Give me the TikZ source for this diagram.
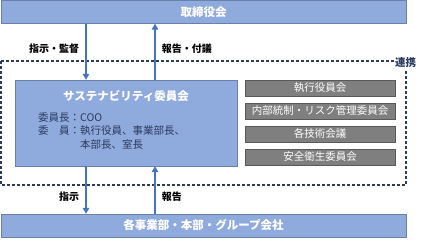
\documentclass[tikz,border=0pt]{standalone}
\usepackage{fontspec}
\setmainfont{Noto Sans CJK JP}
\usetikzlibrary{arrows.meta,positioning}
\definecolor{boxblue}{HTML}{8FAADC}
\definecolor{lineblue}{HTML}{4472C4}
\definecolor{navy}{HTML}{2B3A5E}
\definecolor{boxgray}{HTML}{7F7F7F}

\begin{document}
\begin{tikzpicture}[x=1pt, y=-1pt, font=\fontsize{10}{12}\selectfont,
  bar/.style={draw=boxblue!75!black, fill=boxblue, text=white, font=\bfseries\fontsize{11.5}{13}\selectfont,
    minimum width=405pt, minimum height=23pt, inner sep=0pt},
  committee/.style={draw=black!65, fill=boxgray, text=white, font=\fontsize{10.5}{12}\selectfont,
    minimum width=150pt, minimum height=16pt, inner sep=0pt},
  arr/.style={draw=lineblue, line width=1.6pt, -{Triangle[width=6.5pt,length=6pt]}},
  lbl/.style={text=black, font=\bfseries\fontsize{10}{12}\selectfont, inner sep=6pt}]
  \useasboundingbox (0,0) rectangle (429,240);

  % cooperation frame
  \draw[navy, line width=1.1pt, dash pattern=on 3pt off 2pt] (1,61) rectangle (406,185);
  \node[fill=white, text=navy, font=\bfseries\fontsize{10.5}{12}\selectfont, inner sep=1pt] (link) at (405.5,62.5) {連携};

  \node[bar] (board) at (203.5,12) {取締役会};
  \node[bar] (units) at (203.5,225.5) {各事業部・本部・グループ会社};

  \node[draw=boxblue!75!black, fill=boxblue, minimum width=222pt, minimum height=86pt, inner sep=0pt] (sus) at (126,123) {};
  \node[text=white, font=\bfseries\fontsize{11.5}{13}\selectfont] (sustitle) at (126,96.5) {サステナビリティ委員会};
  \node[text=navy, anchor=north west, inner sep=0pt, align=left, font=\fontsize{10.5}{13.5}\selectfont] (members) at (38,111.5)
    {\begin{tabular}{@{}l@{}l@{}}
      委員長：& COO\\
      委\hspace{1em}員：& 執行役員、事業部長、\\
      & 本部長、室長
    \end{tabular}};

  \node[committee] (exec) at (320,88) {執行役員会};
  \node[committee] (risk) at (320,111) {内部統制・リスク管理委員会};
  \node[committee] (tech) at (320,134) {各技術会議};
  \node[committee] (safety) at (320,157) {安全衛生委員会};

  \draw[arr] (board.south -| 86,0) -- (sus.north -| 86,0) node[pos=0.45, left, lbl] {指示・監督};
  \draw[arr] (sus.north -| 155,0) -- (board.south -| 155,0) node[pos=0.55, right, lbl] {報告・付議};
  \draw[arr] (sus.south -| 86,0) -- (units.north -| 86,0) node[pos=0.64, left, lbl] {指示};
  \draw[arr] (units.north -| 155,0) -- (sus.south -| 155,0) node[pos=0.36, right, lbl] {報告};
\end{tikzpicture}
\end{document}
